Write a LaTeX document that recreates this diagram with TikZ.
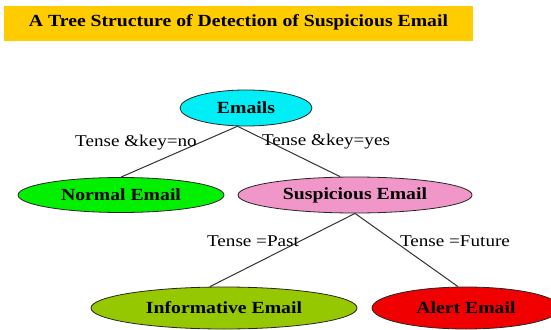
\documentclass[tikz,border=0pt]{standalone}
\usepackage{fontspec}
\setmainfont[FakeStretch=1.16]{Liberation Serif}
\usetikzlibrary{shapes.geometric}
\definecolor{banner}{RGB}{255,204,0}
\definecolor{cyanfill}{RGB}{0,238,245}
\definecolor{greenfill}{RGB}{0,240,0}
\definecolor{pinkfill}{RGB}{240,150,200}
\definecolor{olivefill}{RGB}{150,200,0}
\definecolor{redfill}{RGB}{240,0,0}
\definecolor{edge}{RGB}{50,50,50}
\tikzset{
  leaf/.style={ellipse, draw=black!85, line width=0.8pt, inner sep=0pt,
    font=\fontsize{17}{20}\selectfont\bfseries},
  branch/.style={draw=edge, line width=1pt},
  cond/.style={font=\fontsize{16.5}{20}\selectfont, inner sep=0pt},
}
\begin{document}
\begin{tikzpicture}[x=1pt, y=-1pt]
\useasboundingbox (0,0) rectangle (551,329);
\clip (0,0) rectangle (551,329);
\fill[white] (0,0) rectangle (551,329);

% title banner
\fill[banner] (4,6) rectangle (473,41);
\node[font=\fontsize{17}{20}\selectfont\bfseries, inner sep=0pt] (title) at (238.5,22.5)
  {A Tree Structure of Detection of Suspicious Email};

% tree nodes
\node[leaf, fill=cyanfill, minimum width=132pt, minimum height=36pt] (emails) at (246,108) {Emails};
\node[leaf, fill=greenfill, minimum width=206pt, minimum height=35pt] (normal) at (121,195) {Normal Email};
\node[leaf, fill=pinkfill, minimum width=234pt, minimum height=36pt] (susp) at (355,195) {Suspicious Email};
\node[leaf, fill=olivefill, minimum width=266pt, minimum height=42pt] (info) at (224,308) {Informative Email};
\node[leaf, fill=redfill, minimum width=188pt, minimum height=42pt] (alert) at (466,308) {Alert Email};

% branches
\draw[branch] (emails.245) -- (normal.north);
\draw[branch] (emails.245) -- ([xshift=-15pt]susp.north);
\draw[branch] (susp.south) -- ([xshift=-14pt]info.north);
\draw[branch] (susp.south) -- ([xshift=-8pt]alert.north);

% branch conditions
\node[cond] (c1) at (136,143) {Tense \&key=no};
\node[cond] (c2) at (326,142) {Tense \&key=yes};
\node[cond] (c3) at (253,241) {Tense =Past};
\node[cond] (c4) at (455,241) {Tense =Future};
\end{tikzpicture}
\end{document}
